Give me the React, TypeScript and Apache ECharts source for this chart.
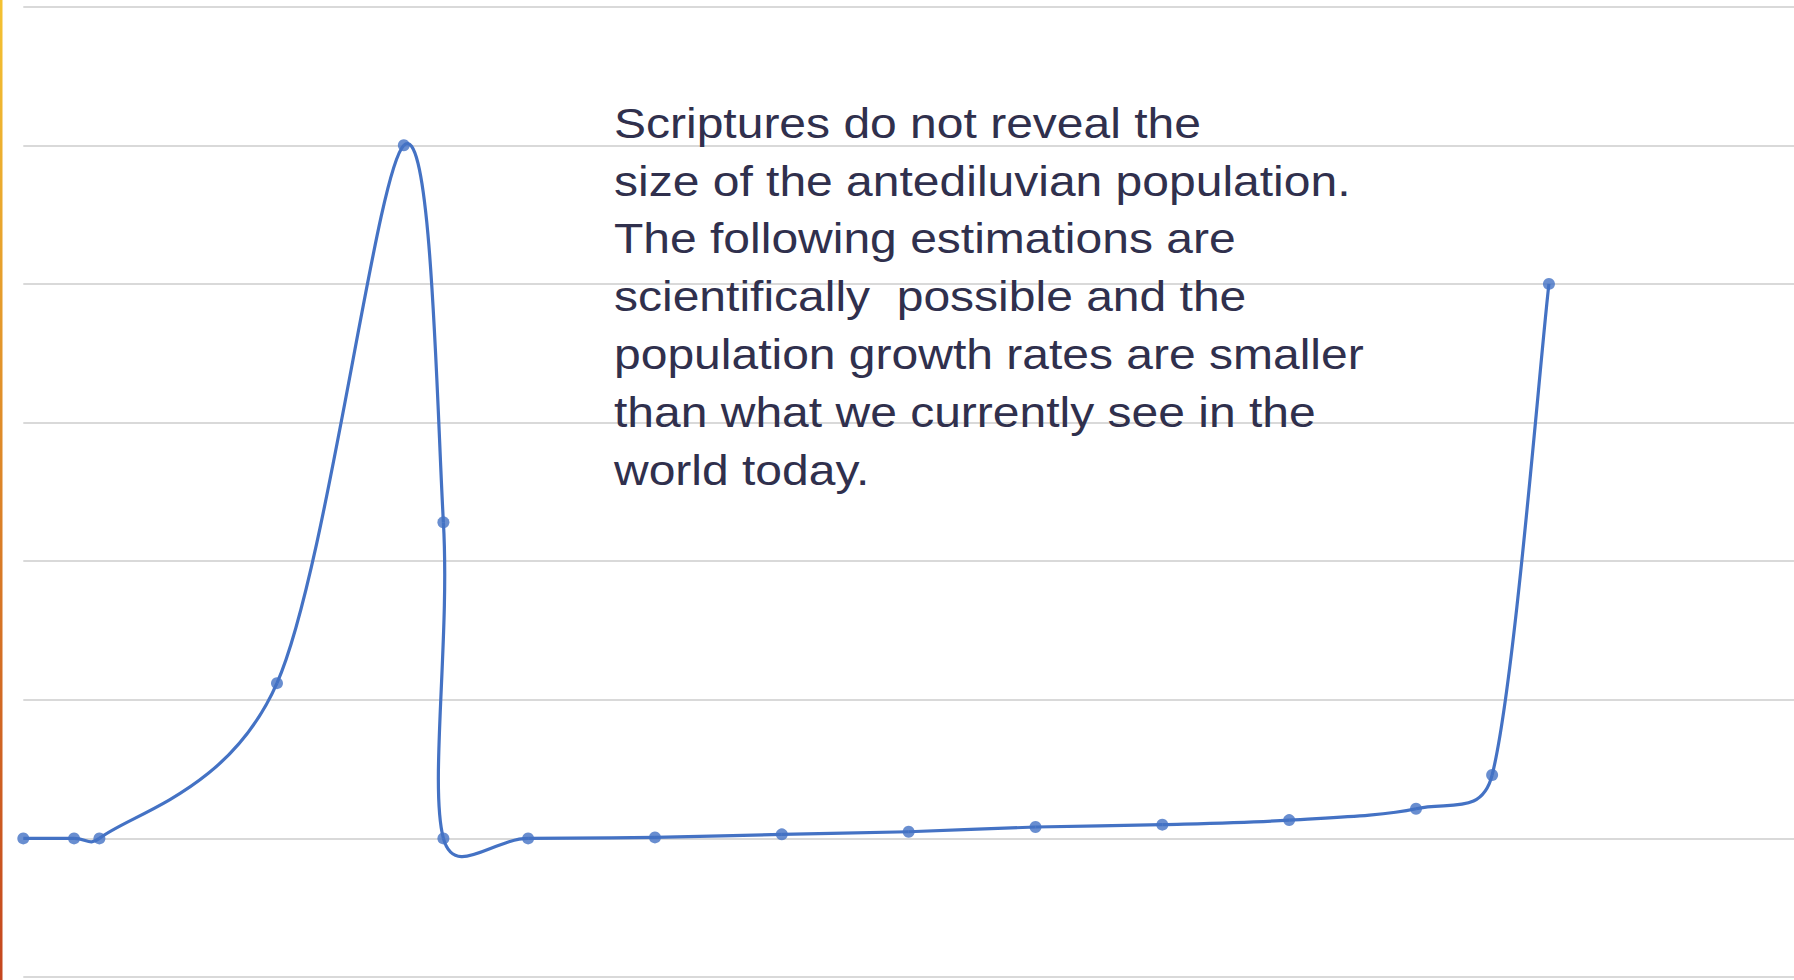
import React, { useEffect, useRef } from "react";
import * as echarts from "echarts";

// Years since creation (x) and estimated population in billions (y)
const years = [0, 200, 300, 1000, 1500, 1656, 1656, 1990, 2490, 2990, 3490, 3990, 4490, 4990, 5490, 5790, 6014];
const population = [0, 0, 0, 2.24, 10, 4.56, 0, 0, 0.014, 0.058, 0.096, 0.164, 0.198, 0.264, 0.428, 0.914, 8.0];

const yTicks = { min: -2, max: 12, interval: 2 };
const xRange = { min: 0, max: 6980 };

const noteLines = [
  "Scriptures do not reveal the",
  "size of the antediluvian population.",
  "The following estimations are",
  "scientifically  possible and the",
  "population growth rates are smaller",
  "than what we currently see in the",
  "world today.",
];

const LINE_COLOR = "#4472C4";

export default function App() {
  const ref = useRef<HTMLDivElement>(null);
  useEffect(() => {
    if (!ref.current) return;
    const chart = echarts.init(ref.current, null, { renderer: "svg" });
    const data = years.map((x, i) => [x, population[i]]);
    const n = data.length;

    const dist = (a: number[], b: number[]) => Math.hypot(b[0] - a[0], b[1] - a[1]);
    // control offset along (b - a), 1/6 tension, limited to half the segment length
    const ctrl = (a: number[], b: number[], segLen: number) => {
      const L = dist(a, b);
      if (L === 0) return [0, 0];
      const len = Math.min(L / 6, segLen / 2);
      return [((b[0] - a[0]) / L) * len, ((b[1] - a[1]) / L) * len];
    };

    // Excel-style smoothed segment between point i and i+1
    const renderSegment = (params: any, api: any) => {
      const i = params.dataIndex;
      if (i >= n - 1) return null;
      const p = (k: number) => api.coord(data[Math.max(0, Math.min(n - 1, k))]);
      const p0 = p(i - 1);
      const p1 = p(i);
      const p2 = p(i + 1);
      const p3 = p(i + 2);
      const seg = dist(p1, p2);
      const t1 = ctrl(p0, p2, seg);
      const t2 = ctrl(p1, p3, seg);
      return {
        type: "bezierCurve",
        shape: {
          x1: p1[0], y1: p1[1],
          x2: p2[0], y2: p2[1],
          cpx1: p1[0] + t1[0], cpy1: p1[1] + t1[1],
          cpx2: p2[0] - t2[0], cpy2: p2[1] - t2[1],
        },
        style: { stroke: LINE_COLOR, lineWidth: 3.2, fill: "none" },
      };
    };

    chart.setOption({
      animation: false,
      backgroundColor: "#ffffff",
      grid: { left: 23.3, right: 0, top: 6.7, bottom: 3, containLabel: false },
      xAxis: {
        type: "value",
        min: xRange.min,
        max: xRange.max,
        axisLine: { show: false },
        axisTick: { show: false },
        axisLabel: { show: false },
        splitLine: { show: false },
      },
      yAxis: {
        type: "value",
        min: yTicks.min,
        max: yTicks.max,
        interval: yTicks.interval,
        axisLine: { show: false },
        axisTick: { show: false },
        axisLabel: { show: false },
        splitLine: { show: true, lineStyle: { color: "#d9d9d9", width: 2 } },
      },
      series: [
        {
          type: "custom",
          data,
          renderItem: renderSegment,
          clip: false,
          silent: true,
          z: 2,
        },
        {
          type: "scatter",
          data,
          symbol: "circle",
          symbolSize: 12,
          itemStyle: { color: LINE_COLOR },
          z: 3,
        },
      ],
      graphic: [
        {
          type: "rect",
          left: 0,
          top: 0,
          shape: { x: 0, y: 0, width: 2.5, height: 980 },
          style: {
            fill: new echarts.graphic.LinearGradient(0, 0, 0, 1, [
              { offset: 0, color: "#F4C232" },
              { offset: 1, color: "#C4461E" },
            ]),
          },
        },
        {
          type: "text",
          x: 614,
          y: 94.5,
          scaleX: 1.143,
          style: {
            text: noteLines.join("\n"),
            font: "42px 'Liberation Sans', Arial, sans-serif",
            lineHeight: 57.8,
            fill: "#30304d",
            verticalAlign: "top",
            align: "left",
          },
          z: 10,
        },
      ],
    });
    return () => chart.dispose();
  }, []);
  return (
    <div
      ref={ref}
      style={{ position: "fixed", left: 0, top: 0, width: 1794, height: 980, background: "#fff" }}
    />
  );
}
